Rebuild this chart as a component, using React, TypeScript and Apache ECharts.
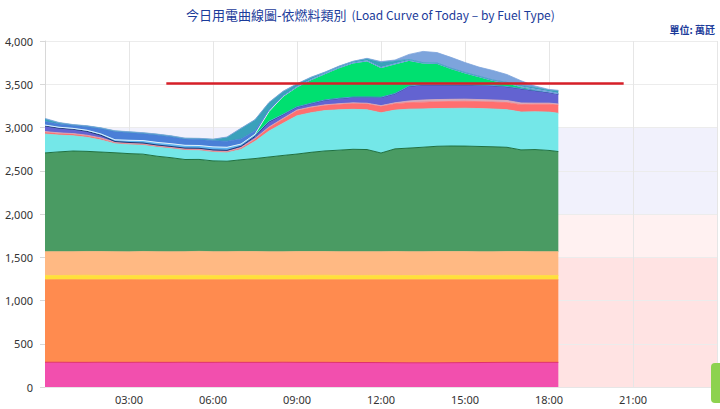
import React, { useEffect, useRef } from "react";
import * as echarts from "echarts";

// sample times (every 30 min, last reading at 18:20)
const times = [
  "00:00","00:30","01:00","01:30","02:00","02:30","03:00","03:30","04:00","04:30",
  "05:00","05:30","06:00","06:30","07:00","07:30","08:00","08:30","09:00","09:30",
  "10:00","10:30","11:00","11:30","12:00","12:30","13:00","13:30","14:00","14:30",
  "15:00","15:30","16:00","16:30","17:00","17:30","18:00","18:20",
];

// values in 萬瓩, bottom of the stack first
const nuclear = [286,286,285,285,286,285,285,286,285,285,286,285,285,286,285,285,285,286,285,285,285,284,283,283,282,281,280,280,280,281,282,283,284,285,285,285,285,285];
const coal = [954,955,956,955,954,955,956,954,955,956,954,955,955,954,956,955,955,954,955,956,955,956,957,957,958,959,960,960,960,959,958,957,956,955,955,955,955,955];
const cogen = [50,48,50,52,49,50,48,51,50,49,50,52,50,48,50,51,50,49,50,50,52,50,49,50,51,50,48,50,52,51,50,49,50,51,50,50,49,50];
const ippCoal = [275,276,274,275,277,275,274,276,275,274,275,276,275,277,276,275,274,275,276,275,274,275,276,275,274,276,277,275,274,275,276,275,274,275,276,275,276,275];
const lng = [1141,1153,1163,1157,1150,1143,1135,1125,1103,1087,1065,1063,1049,1045,1060,1075,1095,1113,1127,1147,1163,1173,1183,1180,1140,1187,1197,1207,1217,1220,1219,1217,1213,1205,1175,1180,1170,1157];
const ippLng = [219,194,177,163,140,107,105,105,107,108,110,107,104,102,120,200,300,372,443,458,467,467,462,460,465,448,450,443,436,435,438,438,437,435,438,437,443,443];
const oil = [22,20,20,18,18,10,10,10,10,8,8,8,8,8,15,25,40,50,60,60,60,65,68,70,75,75,75,78,78,80,80,80,80,82,85,88,92,95];
const lightOil = [6,6,5,6,6,5,6,6,5,6,6,6,5,6,6,6,7,6,6,7,6,6,7,6,8,10,20,25,26,25,25,24,25,24,20,12,12,12];
const hydro = [65,55,50,45,30,8,8,8,8,8,8,8,10,10,15,25,60,45,35,40,55,60,65,70,95,105,170,175,170,165,165,165,165,160,165,145,125,115];
const otherRenew = [10,10,10,12,15,20,25,28,30,32,32,32,35,35,25,15,5,3,2,2,2,2,2,2,2,2,2,2,2,2,2,2,2,2,2,2,2,2];
const solar = [0,0,0,0,0,0,0,0,0,0,0,0,0,0,0,10,114,206,230,272,303,352,394,417,342,342,297,250,246,188,136,98,58,41,20,12,5,3];
const wind = [40,38,36,45,64,95,90,82,86,80,72,70,70,70,58,40,15,5,0,0,0,0,0,0,0,0,0,0,0,0,0,0,0,0,0,0,0,0];
const pumped = [30,12,5,4,4,6,6,6,7,8,8,10,16,45,122,125,86,50,33,26,15,16,16,24,62,35,10,5,5,5,5,5,5,7,15,20,20,30];
const storage = [7,5,3,3,3,3,3,3,3,3,3,3,3,4,4,4,4,5,4,4,4,4,4,6,8,10,59,130,120,125,115,105,110,90,55,19,6,8];

// reference line (horizontal)
const refLineTimes = ["04:20", "20:40"];
const refLineValue = 3510;

// background bands on the value axis
const bandRanges = [[0, 1500], [1500, 2000], [2000, 3000]];

const seriesDefs = [
  { name: "核能", data: nuclear, color: "#f24fae", line: "#e0306e", lw: 1 },
  { name: "燃煤", data: coal, color: "#ff8b4f" },
  { name: "汽電共生", data: cogen, color: "#ffe03a" },
  { name: "民營電廠-燃煤", data: ippCoal, color: "#ffb983" },
  { name: "燃氣", data: lng, color: "#4a9b63", line: "#1f7040", lw: 1 },
  { name: "民營電廠-燃氣", data: ippLng, color: "#74e7e8" },
  { name: "燃油", data: oil, color: "#ff6f6f" },
  { name: "輕油", data: lightOil, color: "#d9a9b8" },
  { name: "水力", data: hydro, color: "#6363d1", line: "#1d3570", lw: 1 },
  { name: "其它再生能源", data: otherRenew, color: "#5fb5f0" },
  { name: "太陽能", data: solar, color: "#00e070", line: "#ffffff", lw: 0.8 },
  { name: "風力", data: wind, color: "#4a7fd7" },
  { name: "抽蓄發電", data: pumped, color: "#3aa1bb" },
  { name: "儲能", data: storage, color: "#7da4dc" },
];
const bandColors = ["#ffe3e3", "#fff1f1", "#f1f1fc"];

const pad = (n: number) => (n < 10 ? "0" + n : "" + n);
// 10-minute axis slots for the whole day
const slots: string[] = [];
for (let m = 0; m <= 1440; m += 10) slots.push(pad(Math.floor(m / 60)) + ":" + pad(m % 60));

const FONT = '"Noto Sans", "Noto Sans CJK TC", sans-serif';
const CJK = '"Noto Sans CJK TC", sans-serif';

export default function App() {
  const ref = useRef<HTMLDivElement>(null);
  useEffect(() => {
    if (!ref.current) return;
    const chart = echarts.init(ref.current, null, { renderer: "svg" });
    const series: any[] = seriesDefs.map((d, si) => ({
      name: d.name,
      type: "line",
      stack: "total",
      symbol: "none",
      z: 2,
      data: times.map((t, i) => [t, d.data[i]]),
      lineStyle: { width: d.lw ? d.lw : 0.8, color: d.line ? d.line : d.color },
      areaStyle: { color: d.color, opacity: 1 },
      itemStyle: { color: d.color },
      markArea:
        si === 0
          ? {
              silent: true,
              z: 1,
              data: bandRanges.map((b, i) => [
                { yAxis: b[0], itemStyle: { color: bandColors[i] } },
                { yAxis: b[1] },
              ]),
            }
          : undefined,
    }));
    series.push({
      name: "ref",
      type: "line",
      symbol: "none",
      z: 5,
      data: refLineTimes.map((t) => [t, refLineValue]),
      lineStyle: { color: "#d71f28", width: 2.5 },
    });
    chart.setOption({
      animation: false,
      title: [
        {
          text: "{a|今日用電曲線圖-依燃料類別} {b|(Load Curve of Today – by Fuel Type)}",
          left: 181,
          top: 0,
          textStyle: {
            fontWeight: "normal",
            rich: {
              a: { fontSize: 13, fontWeight: "normal", color: "#1b3b9a", fontFamily: CJK },
              b: { fontSize: 12, fontWeight: "normal", color: "#1b3b9a", fontFamily: CJK },
            },
          },
        },
        {
          text: "單位: 萬瓩",
          right: 0,
          top: 19,
          textStyle: { fontSize: 10, fontWeight: "bold", color: "#1b3b9a", fontFamily: CJK },
        },
      ],
      grid: { left: 45, right: 3, top: 41, bottom: 22, containLabel: false },
      xAxis: {
        type: "category",
        data: slots,
        boundaryGap: false,
        z: 1.5,
        axisLine: { show: true, lineStyle: { color: "#e6e6e6" } },
        axisTick: { show: false },
        axisLabel: {
          interval: (i: number) => i % 18 === 0 && i > 0 && i < 144,
          color: "#333",
          fontSize: 11,
          margin: 7,
          fontFamily: FONT,
        },
        splitLine: { show: true, interval: (i: number) => i % 18 === 0, lineStyle: { color: "#e6e6e6" } },
      },
      yAxis: {
        type: "value",
        min: 0,
        max: 4000,
        interval: 500,
        z: 1.5,
        axisLine: { show: true, lineStyle: { color: "#d8d8d8" } },
        axisTick: { show: true, length: 5, lineStyle: { color: "#d8d8d8" } },
        axisLabel: {
          formatter: (v: number) => v.toLocaleString("en-US"),
          color: "#333",
          fontSize: 11,
          margin: 12,
          fontFamily: FONT,
        },
        splitLine: { show: true, lineStyle: { color: "#ececec" } },
      },
      graphic: [
        {
          type: "rect",
          shape: { x: 711, y: 363, width: 14, height: 40, r: 4 },
          style: { fill: "#8dd24f" },
          z: 10,
        },
      ],
      series,
    });
    return () => chart.dispose();
  }, []);
  return <div ref={ref} style={{ position: "absolute", left: 0, top: 0, width: 720, height: 409 }} />;
}
